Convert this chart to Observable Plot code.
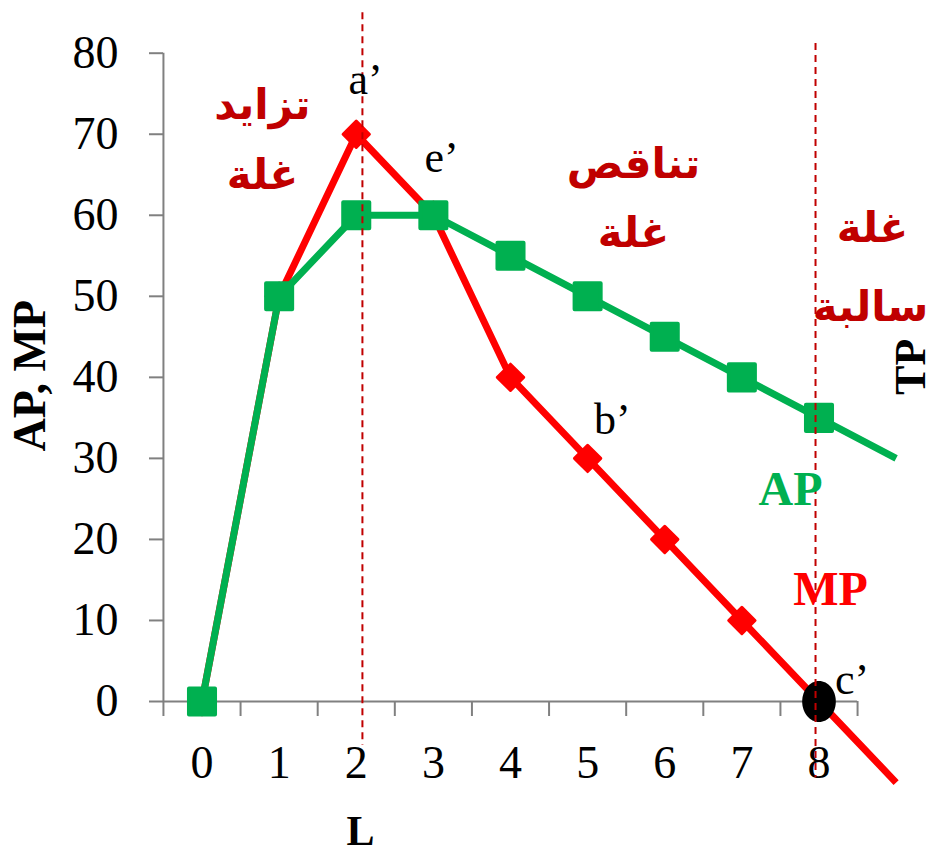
<!DOCTYPE html>
<html>
<head>
<meta charset="utf-8">
<script src="https://cdn.jsdelivr.net/npm/d3@7"></script>
<script src="https://cdn.jsdelivr.net/npm/@observablehq/plot@0.6"></script>
<style>
  html, body { margin: 0; padding: 0; background: #ffffff; }
</style>
</head>
<body>
<div id="chart"></div>
<script>
// ---- data ----
const L  = [0, 1, 2, 3, 4, 5, 6, 7, 8, 9];
const AP = [0, 50, 60, 60, 55, 50, 45, 40, 35, 30];
const MP = [0, 50, 70, 60, 40, 30, 20, 10, 0, -10];
const markerMaxL = 8;            // markers drawn for L = 0..8
const zeroPointL = 8;            // MP reaches 0 here (c')

const yTicks = [0, 10, 20, 30, 40, 50, 60, 70, 80];
const xLabels = [0, 1, 2, 3, 4, 5, 6, 7, 8];
const xTickMarks = [-0.5, 0.5, 1.5, 2.5, 3.5, 4.5, 5.5, 6.5, 7.5, 8.5];

// point letters
const letterText = ["a’", "e’", "b’", "c’"];
const letterX = [2.12, 3.105, 5.32, 8.43];
const letterY = [76.75, 67.1, 34.7, 2.7];

// zone labels (Arabic)
const zoneText = ["تزايد", "غلة", "تناقص", "غلة", "غلة", "سالبة"];
const zoneX = [0.784, 0.784, 5.594, 5.594, 8.694, 8.668];
const zoneY = [73.6, 64.9, 66.2, 57.8, 58.4, 48.6];

// series labels
const seriesText = ["AP", "MP"];
const seriesX = [7.63, 8.15];
const seriesY = [26.1, 13.75];

// dashed guides
const guideX  = [2.08, 7.955];
const guideY1 = [85.0, 81.2];
const guideY2 = [-5.4, -9.4];

// ---- build tables ----
const rows = L.map((l, i) => ({L: l, AP: AP[i], MP: MP[i]}));
const markerRows = rows.filter(d => d.L <= markerMaxL);
const zeroRow = rows.filter(d => d.L === zeroPointL);
const letters = letterText.map((t, i) => ({t, x: letterX[i], y: letterY[i]}));
const zones = zoneText.map((t, i) => ({t, x: zoneX[i], y: zoneY[i]}));
const series = seriesText.map((t, i) => ({t, x: seriesX[i], y: seriesY[i]}));
const guides = guideX.map((x, i) => ({x, y1: guideY1[i], y2: guideY2[i]}));

const GREEN = "#00b050", RED = "#ff0000", DARKRED = "#c00000", GRAY = "#808080";
const SERIF = "'Liberation Serif', 'Times New Roman', serif";
const ARABIC = "'DejaVu Sans', sans-serif";

const ellipse = {
  draw(context, size) {
    const r = Math.sqrt(size / Math.PI);
    const rx = r * 0.82, ry = r, k = 0.5523;
    context.moveTo(rx, 0);
    context.bezierCurveTo(rx, k * ry, k * rx, ry, 0, ry);
    context.bezierCurveTo(-k * rx, ry, -rx, k * ry, -rx, 0);
    context.bezierCurveTo(-rx, -k * ry, -k * rx, -ry, 0, -ry);
    context.bezierCurveTo(k * rx, -ry, rx, -k * ry, rx, 0);
    context.closePath();
  }
};

const chart = Plot.plot({
  width: 934,
  height: 857,
  marginLeft: 163,
  marginRight: 77,
  marginTop: 52.7,
  marginBottom: 156,
  style: {fontFamily: SERIF, fontSize: "46px", color: "black", background: "white"},
  x: {type: "linear", domain: [0, 8], range: [201.5, 818.5]},
  y: {type: "linear", domain: [0, 80], range: [701, 52.7]},
  marks: [
    // axes
    Plot.ruleX([-0.5], {y1: 0, y2: 80, stroke: GRAY, strokeWidth: 2}),
    Plot.ruleY([0], {x1: -0.5, x2: 8.5, stroke: GRAY, strokeWidth: 2}),
    Plot.axisY(yTicks, {anchor: "left", tickSize: 14, tickPadding: 31, stroke: GRAY, strokeWidth: 2,
      fontSize: 46, fontFamily: SERIF, fill: "black"}),
    Plot.axisX(xTickMarks, {anchor: "bottom", tickSize: 15, tickFormat: () => "", stroke: GRAY, strokeWidth: 2}),
    Plot.axisX(xLabels, {anchor: "bottom", tickSize: 0, tickPadding: 44, fontSize: 46, fontFamily: SERIF, fill: "black"}),
    // MP
    Plot.line(rows, {x: "L", y: "MP", stroke: RED, strokeWidth: 7, strokeLinecap: "butt", strokeLinejoin: "round"}),
    Plot.dot(markerRows, {x: "L", y: "MP", symbol: "square", rotate: 45, r: 10.5, fill: RED, stroke: RED, strokeWidth: 3, strokeLinejoin: "round"}),
    // AP
    Plot.line(rows, {x: "L", y: "AP", stroke: GREEN, strokeWidth: 7, strokeLinecap: "butt", strokeLinejoin: "round"}),
    Plot.dot(markerRows, {x: "L", y: "AP", symbol: "square", r: 14.7, fill: GREEN, stroke: GREEN, strokeWidth: 4, strokeLinejoin: "round"}),
    // c' point
    Plot.dot(zeroRow, {x: "L", y: "MP", symbol: ellipse, r: 20.5, fill: "black"}),
    // dashed guides
    Plot.ruleX(guides, {x: "x", y1: "y1", y2: "y2", stroke: DARKRED, strokeWidth: 2, strokeDasharray: "7,5"}),
    // texts
    Plot.text(letters, {x: "x", y: "y", text: "t", fontSize: 44, fontFamily: SERIF, fill: "black", lineAnchor: "middle"}),
    Plot.text(zones, {x: "x", y: "y", text: "t", fontSize: 42, fontFamily: ARABIC, fontWeight: "bold", fill: DARKRED, lineAnchor: "middle"}),
    Plot.text(series, {x: "x", y: "y", text: "t", fontSize: 48, fontFamily: SERIF, fontWeight: "bold",
      fill: (d) => d.t === "AP" ? GREEN : RED, lineAnchor: "middle"}),
    // axis titles
    Plot.text(["AP, MP"], {x: -2.457, y: 40.2, text: d => d, rotate: -90, fontSize: 46, fontFamily: SERIF, fontWeight: "bold", fill: "black", lineAnchor: "top"}),
    Plot.text(["L"], {x: 2.055, y: -16.1, text: d => d, fontSize: 42, fontFamily: SERIF, fontWeight: "bold", fill: "black", lineAnchor: "middle"}),
    Plot.text(["TP"], {x: 8.97, y: 41.3, text: d => d, rotate: -90, fontSize: 44, fontFamily: SERIF, fontWeight: "bold", fill: "black", lineAnchor: "top"})
  ]
});
document.getElementById("chart").appendChild(chart);
</script>
</body>
</html>
